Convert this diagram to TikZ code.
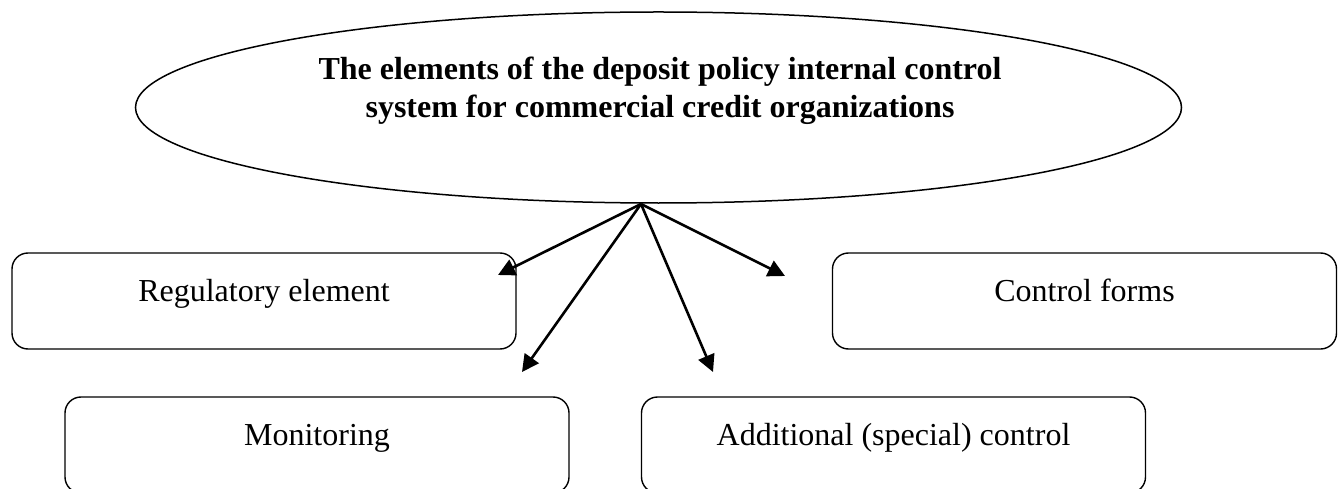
\documentclass[tikz,border=0pt]{standalone}
\usepackage{fontspec}
\setmainfont{Liberation Serif}
\usetikzlibrary{shapes.geometric,arrows.meta}
\tikzset{
  box/.style={draw, line width=1.4bp, rounded corners=16bp, minimum width=504bp, minimum height=96bp,
    inner sep=0pt, font=\fontsize{32bp}{38bp}\selectfont, text height=24bp, text depth=24bp},
  arr/.style={line width=2.6bp, -{Triangle[length=17bp,width=17bp]}},
}
\begin{document}
\begin{tikzpicture}[x=1bp,y=-1bp]
\useasboundingbox (0,0) rectangle (1338,489);
\clip (0,0) rectangle (1338,489);
\node[draw, ellipse, line width=1.5bp, minimum width=1046bp, minimum height=191bp, inner sep=0pt] (top) at (658.5,107.5) {};
\node[font=\bfseries\fontsize{32bp}{38bp}\selectfont, align=center, inner sep=0pt] (title) at (660,91)
  {The elements of the deposit policy internal control\\system for commercial credit organizations};
\node[box] (reg) at (264,301) {Regulatory element};
\node[box] (cf) at (1084.5,301) {Control forms};
\node[box] (mon) at (317,445) {Monitoring};
\node[box] (add) at (893.5,445) {Additional (special) control};
\coordinate (o) at (641,204);
\coordinate (t1) at (498,275);
\coordinate (t2) at (522,372);
\coordinate (t3) at (713,372);
\coordinate (t4) at (785,276);
\draw[arr] (o) -- (t1);
\draw[arr] (o) -- (t2);
\draw[arr] (o) -- (t3);
\draw[arr] (o) -- (t4);
\end{tikzpicture}
\end{document}
